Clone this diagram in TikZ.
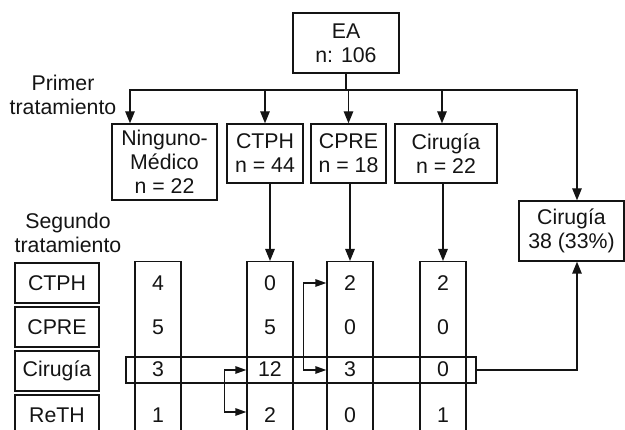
\documentclass[tikz,border=0pt]{standalone}
\usepackage{fontspec}
\setmainfont{Liberation Sans}
\usetikzlibrary{arrows.meta}
\definecolor{ink}{HTML}{141414}
\begin{document}
\begin{tikzpicture}[x=1pt,y=-1pt,
  every node/.style={font=\fontsize{21.3}{24}\selectfont, text=ink},
  box/.style={draw=ink, line width=1.35pt, inner sep=0pt, align=center},
  lnk/.style={draw=ink, line width=1.35pt},
  arr/.style={lnk, -{Triangle[length=12pt,width=9.5pt]}},
  sarr/.style={lnk, {Triangle[length=11pt,width=7.5pt]}-{Triangle[length=11pt,width=7.5pt]}},
  colbox/.style={box, minimum width=46pt, minimum height=180pt, anchor=north},
  rowbox/.style={box, minimum width=84pt, minimum height=40pt},
]
\useasboundingbox (0,0) rectangle (625,430);
\clip (0,0) rectangle (625,430);

% first level
\node[box, minimum width=106pt, minimum height=60pt] (ea) at (346,43) {EA\\n: 106};
\node[box, minimum width=105pt, minimum height=76pt] (ning) at (164.5,162) {Ninguno-\\Médico\\n = 22};
\node[box, minimum width=76pt, minimum height=59pt] (ctph) at (265,153.5) {CTPH\\n = 44};
\node[box, minimum width=75pt, minimum height=59pt] (cpre) at (348.5,153.5) {CPRE\\n = 18};
\node[box, minimum width=102pt, minimum height=59pt] (cir) at (446,153.5) {Cirugía\\n = 22};
\node[box, minimum width=105pt, minimum height=60pt] (cirr) at (571.5,231) {Cirugía\\38 (33\%)};

\node[align=center] (lab1) at (63,95) {Primer\\tratamiento};
\node[align=center] (lab2) at (68,233) {Segundo\\tratamiento};

% distribution bus
\coordinate (busL) at (130,90);
\coordinate (busR) at (577,90);
\draw[lnk] (ea.south) -- (ea.south |- busL);
\draw[arr] (ea.south |- busL) -- (busL) -- (busL |- ning.north);
\draw[arr] (ea.south |- busL) -- (busR) -- (busR |- cirr.north);
\draw[arr] (ctph.north |- busL) -- (ctph.north);
\draw[arr] (cpre.north |- busL) -- (cpre.north);
\draw[arr] ([xshift=-4pt]cir.north |- busL) -- ([xshift=-4pt]cir.north);

% second treatment rows
\node[rowbox] (r1) at (57,283) {CTPH};
\node[rowbox] (r2) at (57,327) {CPRE};
\node[rowbox] (r3) at (57,371) {Cirugía};
\node[rowbox] (r4) at (57,415) {ReTH};

% columns
\node[colbox] (col1) at (158,261) {};
\node[colbox] (col2) at (270,261) {};
\node[colbox] (col3) at (350,261) {};
\node[colbox] (col4) at (443,261) {};

\foreach \c/\a/\b/\cc/\d in {1/4/5/3/1, 2/0/5/12/2, 3/2/0/3/0, 4/2/0/0/1}{
  \node (c\c1) at (col\c.center |- r1.center) {\a};
  \node (c\c2) at (col\c.center |- r2.center) {\b};
  \node (c\c3) at ([yshift=2pt]col\c.center |- r3.center) {\cc};
  \node (c\c4) at (col\c.center |- r4.center) {\d};
}

\draw[arr] (ctph.south -| col2.north) -- (col2.north);
\draw[arr] (cpre.south -| col3.north) -- (col3.north);
\draw[arr] (cir.south -| col4.north) -- (col4.north);

% surgery row selection
\node[box, minimum width=350pt, minimum height=26pt] (sel) at (301,370) {};
\draw[arr] (sel.east) -- (busR |- sel.east) -- (busR |- cirr.south);

% crossovers between columns
\draw[sarr] (col2.west |- sel.east) -- ++(-22pt,0) |- ([yshift=3pt]col2.west |- c24);
\draw[sarr] (col3.west |- c31) -- ++(-23pt,0) |- (col3.west |- sel.east);
\end{tikzpicture}
\end{document}
